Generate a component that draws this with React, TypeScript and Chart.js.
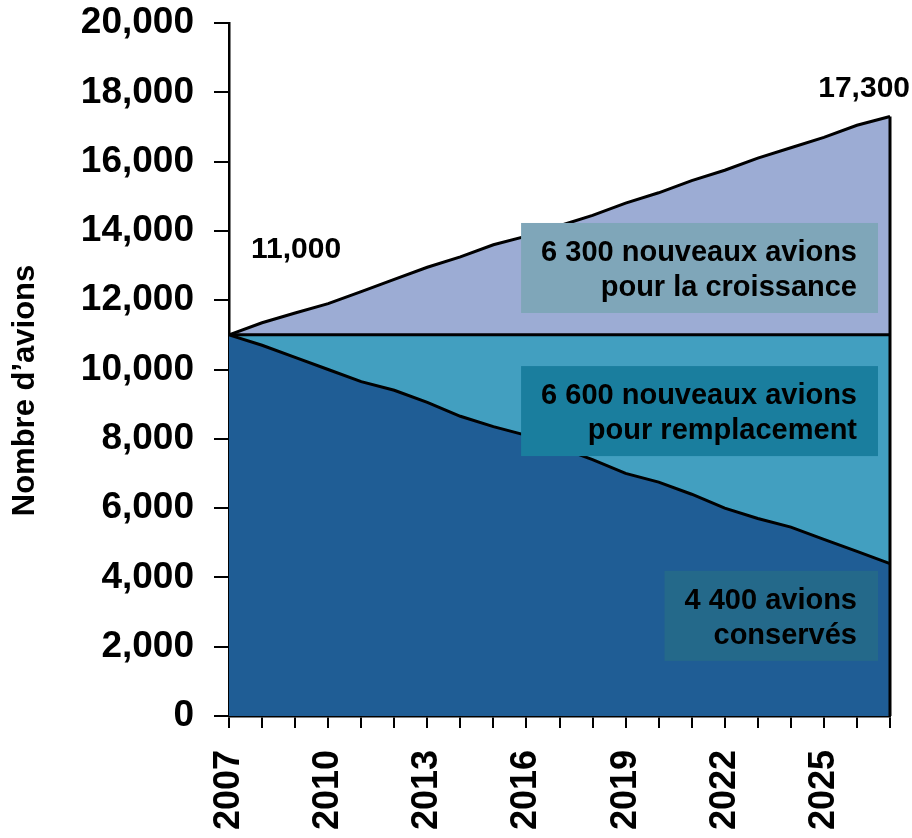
import React, { useEffect, useRef } from "react";
import { Chart, registerables } from "chart.js";

Chart.register(...registerables);

const years = [
  "2007", "2008", "2009", "2010", "2011", "2012", "2013", "2014", "2015", "2016",
  "2017", "2018", "2019", "2020", "2021", "2022", "2023", "2024", "2025", "2026", "2027",
];

// Aircraft retained from the 2007 fleet
const retained = [
  11000, 10700, 10350, 10000, 9650, 9400, 9050, 8650, 8350, 8100,
  7750, 7400, 7000, 6750, 6400, 6000, 5700, 5450, 5100, 4750, 4400,
];

// 2007 fleet level (boundary between replacement and growth)
const fleet2007 = [
  11000, 11000, 11000, 11000, 11000, 11000, 11000, 11000, 11000, 11000,
  11000, 11000, 11000, 11000, 11000, 11000, 11000, 11000, 11000, 11000, 11000,
];

// Total fleet
const totalFleet = [
  11000, 11350, 11630, 11900, 12250, 12600, 12950, 13250, 13600, 13850,
  14150, 14450, 14800, 15100, 15450, 15750, 16100, 16400, 16700, 17050, 17300,
];

const yTicks = { min: 0, max: 20000, step: 2000 };
const yTitle = "Nombre d’avions";

const boxLabels = [
  { lines: ["6 300 nouveaux avions", "pour la croissance"], value: 12930, bg: "#7FA6B9" },
  { lines: ["6 600 nouveaux avions", "pour remplacement"], value: 8800, bg: "#1A7E9E" },
  { lines: ["4 400 avions", "conservés"], value: 2890, bg: "#24698A" },
];

const endLabels = { start: "11,000", end: "17,300" };

const FONT = "'Liberation Sans', Arial, Helvetica, sans-serif";

function zeroPadding(s: any) {
  s.paddingTop = 0;
  s.paddingBottom = 0;
  s.paddingLeft = 0;
  s.paddingRight = 0;
}

export default function App() {
  const ref = useRef<HTMLCanvasElement | null>(null);

  useEffect(() => {
    if (!ref.current) return;

    const overlay = {
      id: "overlay",
      afterDatasetsDraw(chart: any) {
        const ctx = chart.ctx;
        const xs = chart.scales.x;
        const ys = chart.scales.y;
        const area = chart.chartArea;
        const last = years.length - 1;
        const xEnd = xs.getPixelForValue(last);
        // right edge of stacked areas
        ctx.save();
        ctx.strokeStyle = "#000";
        ctx.lineWidth = 3;
        ctx.beginPath();
        ctx.moveTo(xEnd, ys.getPixelForValue(totalFleet[last]));
        ctx.lineTo(xEnd, ys.getPixelForValue(0));
        ctx.stroke();

        // boxes
        ctx.font = `bold 29px ${FONT}`;
        ctx.textAlign = "right";
        ctx.textBaseline = "alphabetic";
        for (const b of boxLabels) {
          const w = Math.max(...b.lines.map((l) => ctx.measureText(l).width)) + 41;
          const h = 90;
          const right = xEnd - 12;
          const cy = ys.getPixelForValue(b.value);
          ctx.fillStyle = b.bg;
          ctx.fillRect(right - w, cy - h / 2, w, h);
          ctx.fillStyle = "#000";
          ctx.fillText(b.lines[0], right - 21, cy - 7);
          ctx.fillText(b.lines[1], right - 21, cy + 28);
        }

        // end value labels
        ctx.font = `bold 30px ${FONT}`;
        ctx.textAlign = "left";
        ctx.fillText(endLabels.start, xs.getPixelForValue(0) + 22, ys.getPixelForValue(totalFleet[0]) - 77);
        ctx.textAlign = "right";
        ctx.fillText(endLabels.end, xEnd + 20, ys.getPixelForValue(totalFleet[last]) - 20);

        // y axis title
        ctx.translate(25, (area.top + area.bottom) / 2 + 21);
        ctx.rotate(-Math.PI / 2);
        ctx.textAlign = "center";
        ctx.textBaseline = "middle";
        ctx.font = `bold 31px ${FONT}`;
        ctx.fillText(yTitle, 0, 0);
        ctx.restore();
      },
    };

    const chart = new Chart(ref.current, {
      type: "line",
      data: {
        labels: years,
        datasets: [
          {
            label: "conservés",
            data: retained,
            fill: "origin",
            backgroundColor: "#1F5D95",
            borderColor: "#000",
            borderWidth: 3,
            pointRadius: 0,
            tension: 0,
          },
          {
            label: "remplacement",
            data: fleet2007,
            fill: "-1",
            backgroundColor: "#429FC0",
            borderColor: "#000",
            borderWidth: 3,
            pointRadius: 0,
            tension: 0,
          },
          {
            label: "croissance",
            data: totalFleet,
            fill: "-1",
            backgroundColor: "#9CACD4",
            borderColor: "#000",
            borderWidth: 3,
            pointRadius: 0,
            tension: 0,
          },
        ],
      },
      options: {
        responsive: false,
        animation: false,
        layout: { padding: { top: 23, right: 22, left: 0, bottom: 0 } },
        plugins: {
          legend: { display: false },
          tooltip: { enabled: false },
          title: { display: false },
        },
        scales: {
          x: {
            offset: false,
            border: { display: true, color: "#000", width: 2.5 },
            grid: {
              display: true,
              drawOnChartArea: false,
              drawTicks: true,
              tickLength: 12,
              color: "#000",
              lineWidth: 2,
            },
            ticks: {
              autoSkip: false,
              minRotation: 90,
              maxRotation: 90,
              padding: 22,
              color: "#000",
              font: { family: FONT, size: 36, weight: "bold" },
              callback: (_v: any, i: number) => (i % 3 === 0 ? years[i] : ""),
            },
            afterFit: (s: any) => {
              s.height = 122;
              zeroPadding(s);
            },
          },
          y: {
            min: yTicks.min,
            max: yTicks.max,
            border: { display: true, color: "#000", width: 2.5 },
            grid: {
              display: true,
              drawOnChartArea: false,
              drawTicks: true,
              tickLength: 15,
              color: "#000",
              lineWidth: 2,
            },
            ticks: {
              stepSize: yTicks.step,
              padding: 20,
              color: "#000",
              font: { family: FONT, size: 37, weight: "bold" },
              callback: (v: any) => Number(v).toLocaleString("en-US"),
            },
            title: { display: false },
            afterFit: (s: any) => {
              s.width = 229;
              zeroPadding(s);
            },
          },
        },
      },
      plugins: [overlay],
    });

    return () => chart.destroy();
  }, []);

  return (
    <div style={{ position: "absolute", left: 0, top: 0, width: 912, height: 838, background: "#fff" }}>
      <canvas ref={ref} width={912} height={838} />
    </div>
  );
}
